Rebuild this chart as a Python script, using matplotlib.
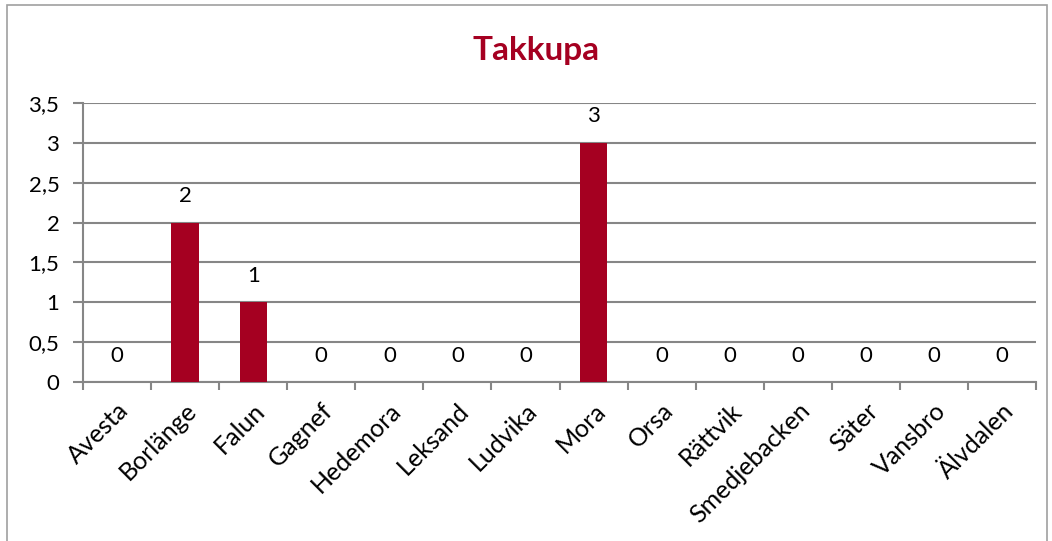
"""Takkupa per kommun - stapeldiagram."""
from matplotlib import pyplot as plt
from matplotlib.patches import Rectangle
from matplotlib.ticker import FuncFormatter, MultipleLocator
import numpy as np

kommuner = [
    "Avesta", "Borlänge", "Falun", "Gagnef", "Hedemora", "Leksand", "Ludvika",
    "Mora", "Orsa", "Rättvik", "Smedjebacken", "Säter", "Vansbro", "Älvdalen",
]
antal = [0, 2, 1, 0, 0, 0, 0, 3, 0, 0, 0, 0, 0, 0]

BAR_COLOR = "#A50021"
GRID_COLOR = "#868686"

plt.rcParams["font.family"] = ["Lato", "DejaVu Sans"]

fig = plt.figure(figsize=(10.52, 5.41), dpi=100)
ax = fig.add_axes([83 / 1052, 1 - 382 / 541, (1036 - 83) / 1052, (382 - 103) / 541])

x = np.arange(len(kommuner))
bars = ax.bar(x, antal, width=0.4, color=BAR_COLOR, zorder=3)

for xi, val in zip(x, antal):
    ax.annotate(str(val), (xi, val), xytext=(0, 19), textcoords="offset points",
                ha="center", va="center", fontsize=16, color="black")

ax.set_xlim(-0.5, len(kommuner) - 0.5)
ax.set_ylim(0, 3.5)
ax.yaxis.set_major_locator(MultipleLocator(0.5))
ax.yaxis.set_major_formatter(FuncFormatter(lambda v, _: f"{v:g}".replace(".", ",")))
ax.grid(axis="y", color=GRID_COLOR, linewidth=1.5, zorder=0)

# ticks between categories, labels at centres
ax.set_xticks(np.arange(-0.5, len(kommuner)), minor=False)
ax.set_xticklabels([])
ax.set_xticks(x, minor=True)
ax.set_xticklabels(kommuner, minor=True, rotation=45, ha="right",
                   rotation_mode="anchor", fontsize=18)
ax.tick_params(axis="x", which="minor", length=0, pad=12)
ax.tick_params(axis="x", which="major", length=6, width=1.5, color=GRID_COLOR)
ax.tick_params(axis="y", length=7, width=1.5, color=GRID_COLOR, labelsize=16, pad=10)

for side in ("top", "right"):
    ax.spines[side].set_visible(False)
for side in ("left", "bottom"):
    ax.spines[side].set_color(GRID_COLOR)
    ax.spines[side].set_linewidth(1.5)

fig.text(536 / 1052, 1 - 50 / 541, "Takkupa", ha="center", va="center",
         fontsize=24, fontweight="bold", color=BAR_COLOR)

fig.patches.append(Rectangle((7 / 1052, -0.01), 1040 / 1052, 1.0, transform=fig.transFigure,
                             fill=False, edgecolor="#A0A0A0", linewidth=1.2))

fig.savefig("out.png", dpi=100)
